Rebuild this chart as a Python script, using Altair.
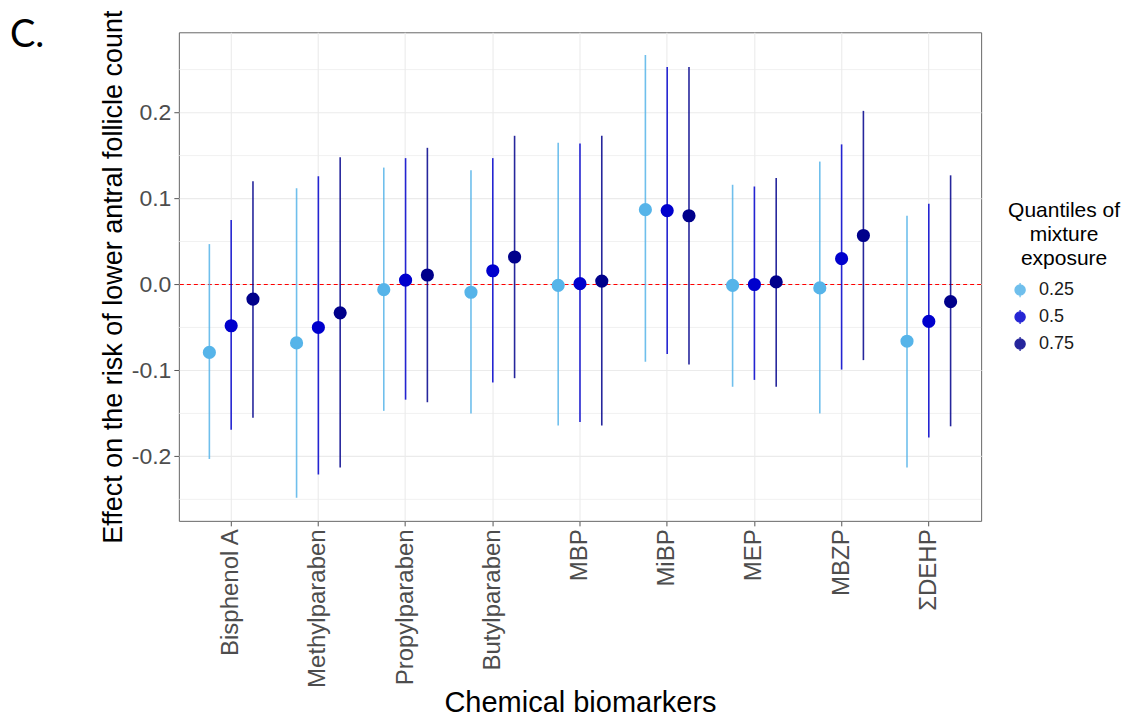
import altair as alt
import pandas as pd

biomarkers = ["Bisphenol A", "Methylparaben", "Propylparaben", "Butylparaben",
              "MBP", "MiBP", "MEP", "MBZP", "ΣDEHP"]
quantiles = ["0.25", "0.5", "0.75"]
colors = ["#56B4E9", "#0000CD", "#00008B"]

est_25 = [-0.079, -0.068, -0.006, -0.009, -0.001, 0.087, -0.001, -0.004, -0.066]
lo_25 = [-0.203, -0.248, -0.147, -0.150, -0.164, -0.090, -0.119, -0.150, -0.213]
hi_25 = [0.047, 0.112, 0.136, 0.133, 0.165, 0.267, 0.116, 0.143, 0.080]

est_50 = [-0.048, -0.050, 0.005, 0.016, 0.001, 0.086, 0.000, 0.030, -0.043]
lo_50 = [-0.169, -0.221, -0.134, -0.114, -0.160, -0.081, -0.111, -0.099, -0.178]
hi_50 = [0.075, 0.126, 0.147, 0.147, 0.164, 0.253, 0.114, 0.163, 0.094]

est_75 = [-0.017, -0.033, 0.011, 0.032, 0.004, 0.080, 0.003, 0.057, -0.020]
lo_75 = [-0.155, -0.213, -0.137, -0.109, -0.164, -0.093, -0.119, -0.088, -0.165]
hi_75 = [0.120, 0.148, 0.159, 0.173, 0.173, 0.253, 0.124, 0.202, 0.127]

y_ticks = [-0.2, -0.1, 0.0, 0.1, 0.2]
y_minor = [-0.25, -0.15, -0.05, 0.05, 0.15, 0.25]
legend_title = ["Quantiles of", "mixture", "exposure"]

rows = []
for q, est, lo, hi in zip(quantiles, [est_25, est_50, est_75],
                          [lo_25, lo_50, lo_75], [hi_25, hi_50, hi_75]):
    for b, e, l, h in zip(biomarkers, est, lo, hi):
        rows.append({"biomarker": b, "quantile": q, "est": e, "lo": l, "hi": h})
df = pd.DataFrame(rows)

FONT = "Liberation Sans"

x_enc = alt.X(
    "biomarker:N", sort=biomarkers,
    scale=alt.Scale(paddingInner=0.25, paddingOuter=0.225),
    axis=alt.Axis(
        title="Chemical biomarkers", labelAngle=-90, labelFontSize=24,
        labelFont=FONT, labelColor="#4D4D4D", labelPadding=3,
        tickSize=5, tickColor="#555555", domain=False, grid=True,
        gridColor="#EBEBEB", gridWidth=1.1, bandPosition=0.5,
        titleFont=FONT, titleFontSize=29, titleFontWeight="normal",
        titleColor="black", titlePadding=1,
    ),
)
y_scale = alt.Scale(domain=[-0.275, 0.2934], nice=False, zero=False)
y_axis = alt.Axis(
    title="Effect on the risk of lower antral follicle count",
    values=y_ticks, format=".1f",
    labelExpr="replace(datum.label, '\u2212', '-')",
    labelFontSize=23, labelFont=FONT, labelColor="#4D4D4D", labelPadding=3,
    tickSize=5, tickColor="#555555", domain=False, grid=True,
    gridColor="#EBEBEB", gridWidth=1.1,
    titleFont=FONT, titleFontSize=27, titleFontWeight="normal",
    titleColor="black", titlePadding=4,
)
xoff = alt.XOffset("quantile:N", sort=quantiles,
                   scale=alt.Scale(paddingInner=0, paddingOuter=0))
legend = alt.Legend(
    title=None,
    orient="none", legendX=830, legendY=249,
    labelFont=FONT, labelFontSize=18, labelColor="#1A1A1A",
    symbolType="M0,-1L0,1M-0.72,0A0.72,0.72,0,1,0,0.72,0A0.72,0.72,0,1,0,-0.72,0Z",
    symbolSize=200, symbolStrokeWidth=1.3, symbolOffset=3,
    rowPadding=7, labelOffset=10, padding=0,
)
color = alt.Color("quantile:N", sort=quantiles,
                  scale=alt.Scale(domain=quantiles, range=colors), legend=legend)
stroke = alt.Stroke("quantile:N", sort=quantiles,
                    scale=alt.Scale(domain=quantiles, range=colors), legend=legend)

minor = alt.Chart(pd.DataFrame({"v": y_minor})).mark_rule(
    color="#EBEBEB", strokeWidth=0.7
).encode(y=alt.Y("v:Q", scale=y_scale, axis=y_axis))

zero = alt.Chart(pd.DataFrame({"v": [0.0]})).mark_rule(
    color="red", strokeDash=[4, 3], strokeWidth=1.2
).encode(y=alt.Y("v:Q", scale=y_scale))

bars = alt.Chart(df).mark_rule(strokeWidth=1.6, opacity=0.85).encode(
    x=x_enc, xOffset=xoff,
    y=alt.Y("lo:Q", scale=y_scale, axis=y_axis), y2="hi:Q",
    color=color,
)
points = alt.Chart(df).mark_circle(size=125, opacity=1).encode(
    x=x_enc, xOffset=xoff,
    y=alt.Y("est:Q", scale=y_scale, axis=y_axis),
    color=color, stroke=stroke,
)

label = alt.Chart(pd.DataFrame({"t": ["C."]})).mark_text(
    align="left", baseline="alphabetic", fontSize=38, font="Lato", color="black"
).encode(x=alt.value(-169), y=alt.value(15), text="t:N")

legend_title_text = alt.Chart(pd.DataFrame({"t": ["\n".join(legend_title)]})).mark_text(
    align="center", baseline="top", fontSize=21, font=FONT, color="black",
    lineBreak="\n", lineHeight=24,
).encode(x=alt.value(886), y=alt.value(168), text="t:N")

chart = alt.layer(minor, zero, bars, points, label, legend_title_text).properties(
    width=803, height=489,
    padding={"left": 2, "top": 1, "right": 0, "bottom": 0},
).configure_view(stroke="#666666", strokeWidth=1)

chart.save("out.html", embed_options={"renderer": "svg", "actions": False})
